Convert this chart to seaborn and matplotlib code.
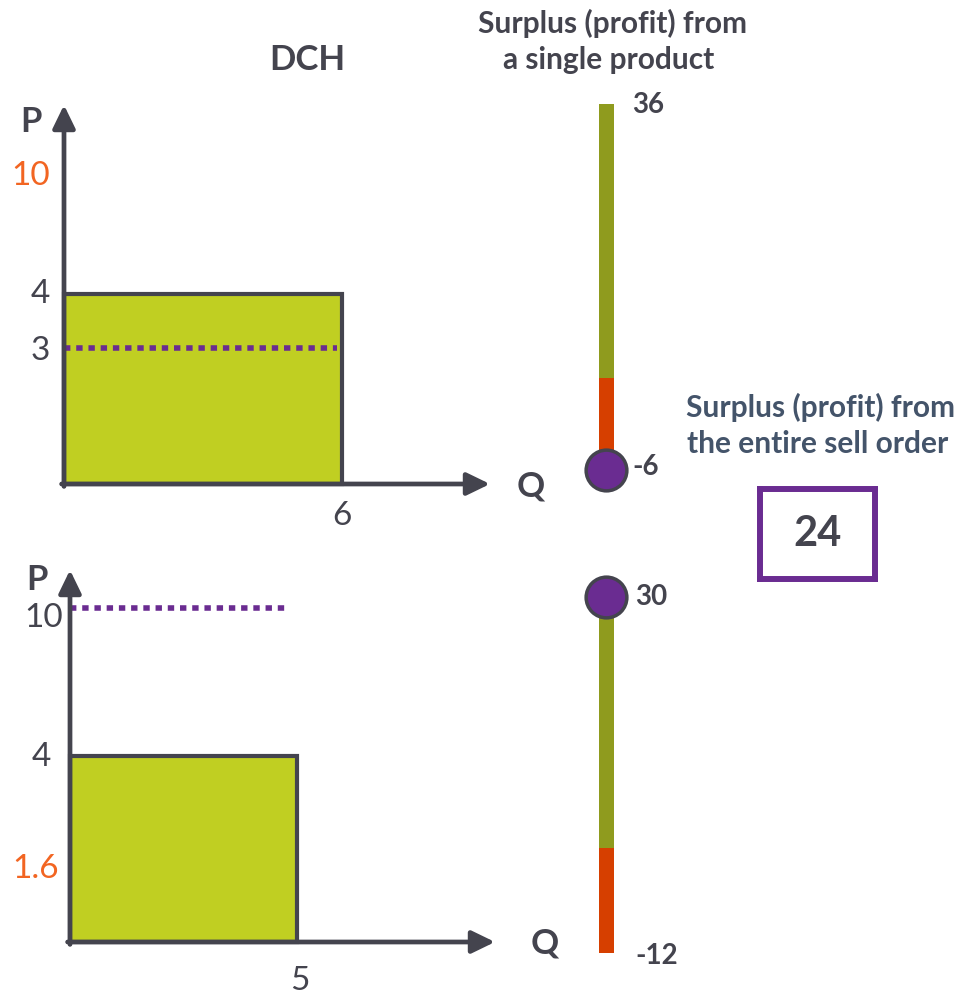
import numpy as np
import matplotlib
matplotlib.use("Agg")
import matplotlib.pyplot as plt
import seaborn as sns

# ---------------------------------------------------------------- values
# upper market (DCH): one sell order
upper_qty = 6
upper_cost = 4
upper_price = 3
upper_price_high = 10
upper_line_q = [0, 5.9]

# lower market
lower_qty = 5
lower_cost = 4
lower_price = 10
lower_price_low = 1.6
lower_line_q = [0, 4.85]

# surplus (profit) from a single product
upper_surplus_min, upper_surplus_max = -6, 36
upper_surplus_value = -6
lower_surplus_min, lower_surplus_max = -12, 30
lower_surplus_value = 30
surplus_break = 0

# surplus from the entire sell order
total_surplus = 24

# ---------------------------------------------------------------- style
sns.set_theme(style="white")
plt.rcParams["font.family"] = ["Lato", "DejaVu Sans"]

DARK = "#44444e"
PURPLE = "#6a2c91"
BLOCK = "#c0cf22"
OLIVE = "#8f9b1e"
RED = "#d63f00"
ORANGE = "#f26522"
SLATE = "#44546a"

W, H = 964, 996
fig = plt.figure(figsize=(W / 100, H / 100), dpi=100)


def px_axes(x0, y0, x1, y1):
    """Axes placed from pixel box (left, top, right, bottom)."""
    ax = fig.add_axes([x0 / W, 1 - y1 / H, (x1 - x0) / W, (y1 - y0) / H])
    ax.patch.set_alpha(0)
    for s in ax.spines.values():
        s.set_visible(False)
    return ax


def broken_scale(vals, heights):
    vals = np.asarray(vals, float)
    heights = np.asarray(heights, float)
    return (lambda v: np.interp(v, vals, heights),
            lambda h: np.interp(h, heights, vals))


def clear_ticks(ax):
    ax.set_xticks([])
    ax.set_yticks([])


def draw_axes_arrows(ax, w_px, h_px):
    style = "-|>,head_length=0.7,head_width=0.34"
    kw = dict(arrowstyle=style, lw=3.4, color=DARK, mutation_scale=20,
              shrinkA=0, shrinkB=0)
    ax.annotate("", xy=(1, 0), xytext=(-2.4 / w_px, 0), xycoords="axes fraction",
                arrowprops=kw, zorder=6)
    ax.annotate("", xy=(0, 1), xytext=(0, -2.4 / h_px), xycoords="axes fraction",
                arrowprops=kw, zorder=6)


def tick_text(ax, text, xy, off, color=DARK, ha="right", size=24):
    ax.annotate(text, xy=xy, xytext=off, textcoords="offset points",
                ha=ha, va="center", fontsize=size, color=color, annotation_clip=False)


def price_panel(box, q_max, p_anchor, qty, cost, line_q, line_p):
    x0, y0, x1, y1 = box
    ax = px_axes(*box)
    fwd, inv = broken_scale(*p_anchor)
    ax.set_yscale("function", functions=(fwd, inv))
    ax.set_xlim(0, q_max)
    ax.set_ylim(p_anchor[0][0], p_anchor[0][-1])
    clear_ticks(ax)
    ax.bar(0, cost, width=qty, align="edge", color=BLOCK, edgecolor=DARK,
           linewidth=3, zorder=2, clip_on=False)
    sns.lineplot(x=line_q, y=[line_p] * len(line_q), ax=ax, color=PURPLE,
                 linewidth=4.0, linestyle=(0, (1.15, 1.05)), errorbar=None,
                 zorder=3)
    draw_axes_arrows(ax, x1 - x0, y1 - y0)
    return ax


# ---------------------------------------------------------------- upper panel
ax_u = price_panel((64, 105, 490, 484), 426 / 46.33,
                   ([0, 3, 4, 10, 14], [0, 136, 190, 308, 379]),
                   upper_qty, upper_cost, upper_line_q, upper_price)
tick_text(ax_u, "4", (0, upper_cost), (-10, 0))
tick_text(ax_u, "3", (0, upper_price), (-10, -2))
tick_text(ax_u, "10", (0, upper_price_high), (-10, 0), color=ORANGE)
tick_text(ax_u, "6", (upper_qty, 0), (0, -23), ha="center")
ax_u.annotate("P", xy=(0, 1), xycoords="axes fraction", xytext=(-24, -12),
              textcoords="offset points", ha="center", va="center",
              fontsize=25, fontweight="bold", color=DARK)
ax_u.annotate("Q", xy=(1, 0), xycoords="axes fraction", xytext=(29, -2),
              textcoords="offset points", ha="center", va="center",
              fontsize=25, fontweight="bold", color=DARK)

# ---------------------------------------------------------------- lower panel
ax_l = price_panel((70, 570, 495, 942), 425 / 45.4,
                   ([0, 4, 10, 12], [0, 186, 334, 372]),
                   lower_qty, lower_cost, lower_line_q, lower_price)
tick_text(ax_l, "10", (0, lower_price), (-5, -7))
tick_text(ax_l, "4", (0, lower_cost), (-14, -1))
tick_text(ax_l, "1.6", (0, lower_price_low), (-8, -1), color=ORANGE)
tick_text(ax_l, "5", (lower_qty, 0), (2, -28), ha="center")
ax_l.annotate("P", xy=(0, 1), xycoords="axes fraction", xytext=(-24, -7),
              textcoords="offset points", ha="center", va="center",
              fontsize=25, fontweight="bold", color=DARK)
ax_l.annotate("Q", xy=(1, 0), xycoords="axes fraction", xytext=(36, -1),
              textcoords="offset points", ha="center", va="center",
              fontsize=25, fontweight="bold", color=DARK)

fig.text(307 / W, 1 - 60 / H, "DCH", ha="center", va="center",
         fontsize=25, fontweight="bold", color=DARK)


# ---------------------------------------------------------------- thermometers
def thermometer(box, lo, hi, brk, heights, value):
    ax = px_axes(*box)
    fwd, inv = broken_scale([lo, brk, hi], heights)
    ax.set_yscale("function", functions=(fwd, inv))
    ax.set_xlim(-1, 1)
    ax.set_ylim(lo, hi)
    clear_ticks(ax)
    ax.bar(0, brk - lo, bottom=lo, width=0.75, color=RED, linewidth=0, zorder=2)
    ax.bar(0, hi - brk, bottom=brk, width=0.75, color=OLIVE, linewidth=0, zorder=2)
    sns.scatterplot(x=[0], y=[value], ax=ax, s=860, color=PURPLE, edgecolor=DARK,
                    linewidth=2.5, zorder=5, clip_on=False)
    return ax


th_u = thermometer((586, 104, 626, 470), upper_surplus_min, upper_surplus_max,
                   surplus_break, [0, 92, 366], upper_surplus_value)
th_l = thermometer((586, 597, 626, 953), lower_surplus_min, lower_surplus_max,
                   surplus_break, [0, 105, 356], lower_surplus_value)

num_kw = dict(textcoords="offset points", ha="left", va="center",
              fontsize=20, fontweight="bold", color=DARK, annotation_clip=False)
th_u.annotate(str(upper_surplus_max), xy=(0, upper_surplus_max), xytext=(19, -1), **num_kw)
th_u.annotate(str(upper_surplus_value), xy=(0, upper_surplus_value), xytext=(19, 2), **num_kw)
th_l.annotate(str(lower_surplus_value), xy=(0, lower_surplus_value), xytext=(21, 0), **num_kw)
th_l.annotate(str(lower_surplus_min), xy=(0, lower_surplus_min), xytext=(21, -2), **num_kw)

fig.text(612 / W, 1 - 23 / H, "Surplus (profit) from", ha="center", va="center",
         fontsize=21.5, fontweight="bold", color=DARK)
fig.text(609 / W, 1 - 60 / H, "a single product", ha="center", va="center",
         fontsize=21.5, fontweight="bold", color=DARK)

fig.text(820 / W, 1 - 407 / H, "Surplus (profit) from", ha="center", va="center",
         fontsize=21.5, fontweight="bold", color=SLATE)
fig.text(818 / W, 1 - 444 / H, "the entire sell order", ha="center", va="center",
         fontsize=21.5, fontweight="bold", color=SLATE)

# total surplus box
bx = px_axes(760, 489, 875, 579)
clear_ticks(bx)
for s in bx.spines.values():
    s.set_visible(True)
    s.set_color(PURPLE)
    s.set_linewidth(4.3)
bx.text(0.5, 0.5, str(total_surplus), transform=bx.transAxes, ha="center",
        va="center", fontsize=30, fontweight="bold", color=DARK)

fig.savefig("out.png", dpi=100)
